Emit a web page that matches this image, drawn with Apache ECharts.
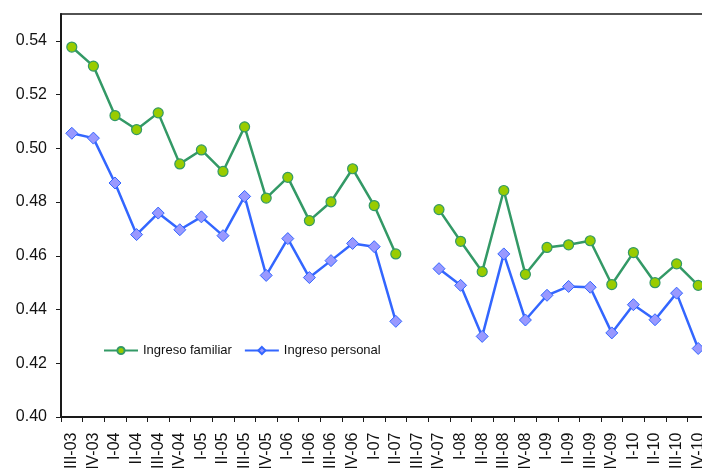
<!DOCTYPE html>
<html>
<head>
<meta charset="utf-8">
<title>Ingreso familiar e Ingreso personal</title>
<script src="https://cdn.jsdelivr.net/npm/echarts@6/dist/echarts.min.js"></script>
<style>
  html, body { margin: 0; padding: 0; background: #ffffff; overflow: hidden; }
  /* the plot runs a little past the right edge of the window */
  #chart { width: 710px; height: 468px; }
</style>
</head>
<body>
<div id="chart"></div>
<script>
// Quarters (trimestre-año)
const quarters = [
  'III-03', 'IV-03', 'I-04', 'II-04', 'III-04', 'IV-04', 'I-05', 'II-05',
  'III-05', 'IV-05', 'I-06', 'II-06', 'III-06', 'IV-06', 'I-07', 'II-07',
  'III-07', 'IV-07', 'I-08', 'II-08', 'III-08', 'IV-08', 'I-09', 'II-09',
  'III-09', 'IV-09', 'I-10', 'II-10', 'III-10', 'IV-10'
];

// Gini coefficient by income type; III-07 has no observation
const ingresoFamiliar = [
  0.5377, 0.5306, 0.5122, 0.5070, 0.5132, 0.4942, 0.4994, 0.4914,
  0.5080, 0.4815, 0.4892, 0.4731, 0.4801, 0.4924, 0.4787, 0.4607,
  null, 0.4772, 0.4654, 0.4541, 0.4843, 0.4531, 0.4631, 0.4641,
  0.4656, 0.4493, 0.4612, 0.4500, 0.4570, 0.4490
];
const ingresoPersonal = [
  0.5056, 0.5038, 0.4871, 0.4679, 0.4759, 0.4697, 0.4745, 0.4675,
  0.4821, 0.4527, 0.4664, 0.4519, 0.4582, 0.4646, 0.4634, 0.4356,
  null, 0.4552, 0.4490, 0.4300, 0.4607, 0.4361, 0.4453, 0.4486,
  0.4483, 0.4313, 0.4418, 0.4362, 0.4461, 0.4255
];

// Value axis ticks
const yTicks = [0.40, 0.42, 0.44, 0.46, 0.48, 0.50, 0.52, 0.54];

const FONT = '"Liberation Sans", Arial, sans-serif';

const chart = echarts.init(document.getElementById('chart'), null, { renderer: 'canvas' });

chart.setOption({
  backgroundColor: '#ffffff',
  animation: false,
  grid: {
    left: 61,
    right: 1,
    top: 14,
    bottom: 51,
    outerBoundsMode: 'none',
    containLabel: false,
    show: true,
    borderColor: '#1a1a1a',
    borderWidth: 1.5,
    backgroundColor: 'transparent'
  },
  legend: {
    left: 98,
    top: 339,
    itemWidth: 34,
    itemHeight: 9,
    itemGap: 12,
    textStyle: { fontFamily: FONT, fontSize: 13, color: '#111' },
    data: ['Ingreso familiar', 'Ingreso personal']
  },
  xAxis: {
    type: 'category',
    data: quarters,
    boundaryGap: true,
    axisLine: { lineStyle: { color: '#1a1a1a', width: 2 } },
    axisTick: { show: true, alignWithLabel: false, length: 5, lineStyle: { color: '#1a1a1a', width: 1 } },
    axisLabel: {
      interval: 0,
      rotate: 90,
      margin: 15.5,
      fontFamily: FONT,
      fontSize: 16,
      color: '#111'
    },
    splitLine: { show: false }
  },
  yAxis: {
    type: 'value',
    min: 0.40,
    max: 0.55,
    interval: 0.02,
    axisLine: { show: true, lineStyle: { color: '#1a1a1a', width: 2 } },
    axisTick: { show: true, length: 5, customValues: yTicks, lineStyle: { color: '#1a1a1a', width: 1 } },
    axisLabel: {
      customValues: yTicks,
      margin: 14,
      fontFamily: FONT,
      fontSize: 16,
      color: '#111',
      formatter: v => v.toFixed(2)
    },
    splitLine: { show: false }
  },
  series: [
    {
      name: 'Ingreso familiar',
      type: 'line',
      data: ingresoFamiliar,
      connectNulls: false,
      symbol: 'circle',
      symbolSize: 10,
      lineStyle: { color: '#339966', width: 2.5 },
      itemStyle: { color: '#99cc00', borderColor: '#339966', borderWidth: 1.2 },
      z: 3
    },
    {
      name: 'Ingreso personal',
      type: 'line',
      data: ingresoPersonal,
      connectNulls: false,
      symbol: 'diamond',
      symbolSize: 12,
      lineStyle: { color: '#3366ff', width: 2.5 },
      itemStyle: { color: '#9999ff', borderColor: '#3366ff', borderWidth: 1 },
      z: 2
    }
  ]
});
</script>
</body>
</html>
